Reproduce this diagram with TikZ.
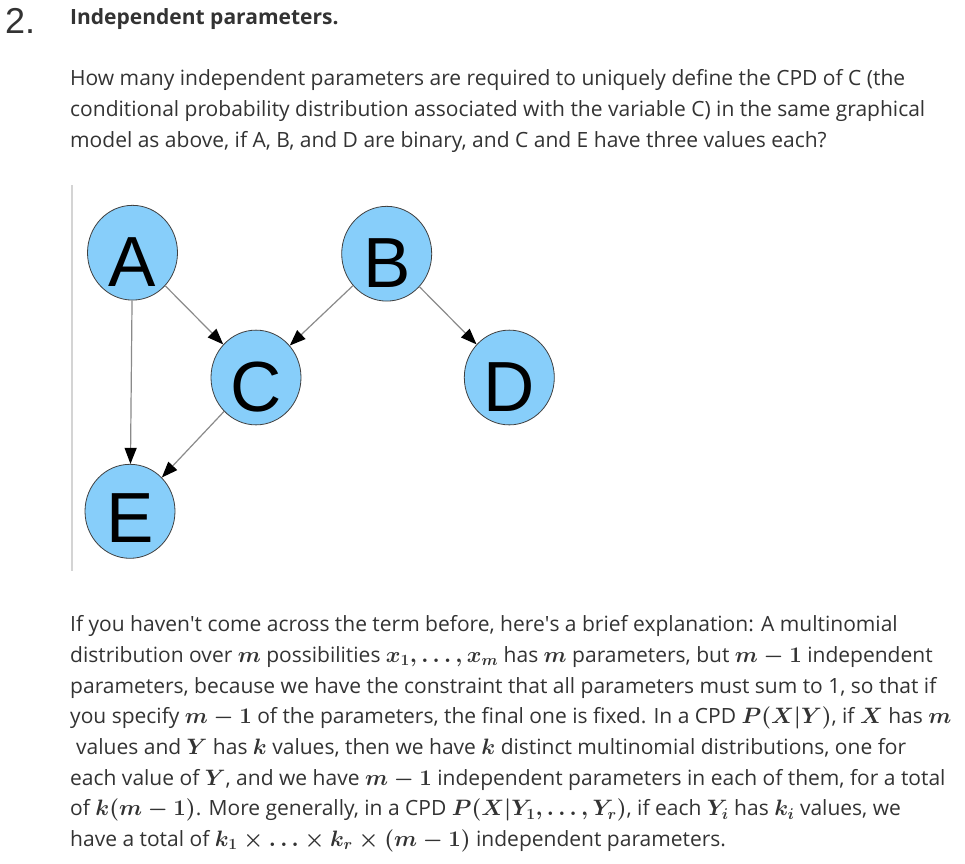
\documentclass[tikz,border=0pt]{standalone}
\usepackage{fix-cm}
\usepackage[no-math]{fontspec}
\setmainfont{Open Sans}
\newfontfamily\nodefont{Liberation Sans}
\usetikzlibrary{arrows.meta,shapes.geometric}
\definecolor{txt}{HTML}{333333}
\definecolor{nodefill}{HTML}{87CEFA}
\definecolor{edgecol}{HTML}{8A8A8A}
\definecolor{rulecol}{HTML}{D4D4D4}
\newcommand\M[1]{{\fontsize{22.3}{22.3}\selectfont\boldmath$#1$}}
\begin{document}
\begin{tikzpicture}[x=1pt,y=-1pt,
  bodyline/.style={anchor=base west,inner sep=0pt,text=txt,font=\fontsize{21}{21}\selectfont},
  bn/.style={ellipse,draw=black!75,line width=0.8pt,fill=nodefill,minimum width=90pt,minimum height=94pt,inner sep=0pt,
    font=\nodefont\fontsize{71}{71}\selectfont,text height=67pt,text depth=0pt},
  arr/.style={draw=edgecol,line width=1.2pt,-{Triangle[length=16pt,width=12pt,fill=black,color=black]}}]
\useasboundingbox (0,0) rectangle (965,863);
\fill[white] (0,0) rectangle (965,863);
% heading
\node[anchor=base west,inner sep=0pt,text=txt,font=\nodefont\fontsize{36}{36}\selectfont] (num) at (5,33.3) {2.};
\node[bodyline,font=\bfseries\fontsize{21}{21}\selectfont] (title) at (70,24) {Independent parameters.};
% question
\node[bodyline] (q1) at (70,85) {How many independent parameters are required to uniquely define the CPD of C (the};
\node[bodyline] (q2) at (70,116) {conditional probability distribution associated with the variable C) in the same graphical};
\node[bodyline] (q3) at (70,147) {model as above, if A, B, and D are binary, and C and E have three values each?};
% figure
\draw[rulecol,line width=2pt] (71.5,185) -- (71.5,571);
\node[bn] (A) at (132.5,252.7) {A};
\node[bn] (B) at (386.7,253.7) {B};
\node[bn] (C) at (256,377.5) {C};
\node[bn] (D) at (509.3,377.5) {D};
\node[bn,text height=62pt] (E) at (130,511.3) {E};
\draw[arr] (A) -- (C);
\draw[arr] (B) -- (C);
\draw[arr] (B) -- (D);
\draw[arr] (A) -- (E);
\draw[arr] (C) -- (E);
% explanation
\node[bodyline] (p1) at (70,631.7) {If you haven\textquotesingle t come across the term before, here\textquotesingle s a brief explanation: A multinomial};
\node[bodyline] (p2) at (70,662.4) {distribution over \M{m} possibilities \M{x_1,\ldots,x_m} has \M{m} parameters, but \M{m-1} independent};
\node[bodyline] (p3) at (70,693.1) {parameters, because we have the constraint that all parameters must sum to 1, so that if};
\node[bodyline] (p4) at (70,723.8) {you specify \M{m-1} of the parameters, the final one is fixed. In a CPD \M{P(X|Y)}, if \M{X} has \M{m}};
\node[bodyline] (p5) at (76,754.5) {values and \M{Y} has \M{k} values, then we have \M{k} distinct multinomial distributions, one for};
\node[bodyline] (p6) at (70,785.2) {each value of \M{Y}, and we have \M{m-1} independent parameters in each of them, for a total};
\node[bodyline] (p7) at (70,815.9) {of \M{k(m-1)}. More generally, in a CPD \M{P(X|Y_1,\ldots,Y_r)}, if each \M{Y_i} has \M{k_i} values, we};
\node[bodyline] (p8) at (70,846.6) {have a total of \M{k_1\times\ldots\times k_r\times(m-1)} independent parameters.};
\end{tikzpicture}
\end{document}
